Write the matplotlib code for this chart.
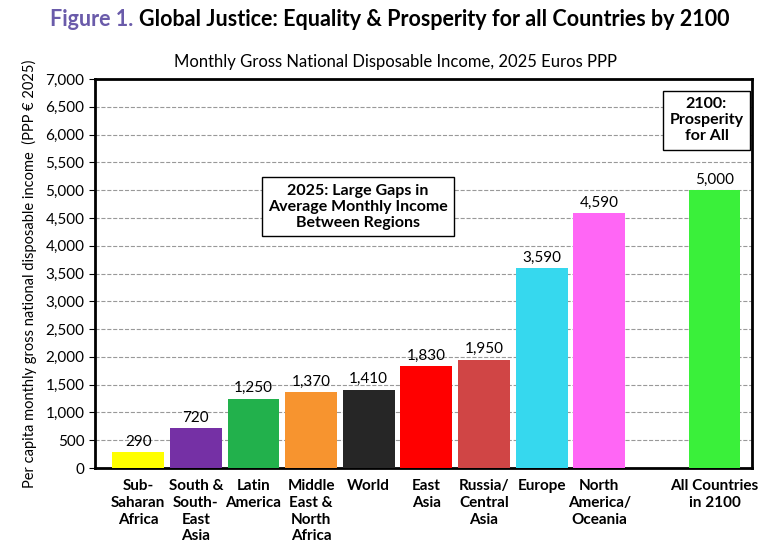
import matplotlib.pyplot as plt
import numpy as np

plt.rcParams['font.family'] = ['Lato', 'DejaVu Sans']

# data
regions = ["Sub-\nSaharan\nAfrica", "South &\nSouth-\nEast\nAsia", "Latin\nAmerica",
           "Middle\nEast &\nNorth\nAfrica", "World", "East\nAsia", "Russia/\nCentral\nAsia",
           "Europe", "North\nAmerica/\nOceania", "All Countries\nin 2100"]
income = [290, 720, 1250, 1370, 1410, 1830, 1950, 3590, 4590, 5000]
positions = [0, 1, 2, 3, 4, 5, 6, 7, 8, 10]
colors = ["#FFFF00", "#7530A5", "#22B14C", "#F7942F", "#262626", "#FF0000",
          "#D04545", "#36D8EE", "#FF66F5", "#3AF03A"]

fig = plt.figure(figsize=(7.74, 5.43), dpi=100)
ax = fig.add_axes([95 / 774, 75 / 543, 657 / 774, 389 / 543])

ax.bar(positions, income, width=0.9, color=colors, zorder=3)
for x, v in zip(positions, income):
    ax.text(x, v + 60, f"{v:,}", ha="center", va="bottom", fontsize=11, zorder=4)

ax.set_xlim(-0.75, 10.65)
ax.set_ylim(0, 7000)
ax.set_yticks(np.arange(0, 7001, 500))
ax.yaxis.set_major_formatter(plt.FuncFormatter(lambda v, p: f"{int(v):,}"))
ax.tick_params(axis="y", labelsize=11, length=4, direction="out")
ax.set_xticks(positions)
ax.set_xticklabels(regions, fontsize=11, fontweight="bold", va="top", linespacing=1.25)
ax.tick_params(axis="x", length=0, pad=8)
ax.grid(axis="y", linestyle="--", color="#999999", linewidth=0.8, zorder=0)
for s in ax.spines.values():
    s.set_linewidth(2)

ax.set_ylabel("Per capita monthly gross national disposable income  (PPP € 2025)", fontsize=10.5, labelpad=6)

box = dict(boxstyle="square,pad=0.4", facecolor="white", edgecolor="black", linewidth=1)
ax.text(3.81, 4700, "2025: Large Gaps in\nAverage Monthly Income\nBetween Regions",
        ha="center", va="center", fontsize=11.5, fontweight="bold", bbox=box, zorder=5)
ax.text(9.86, 6260, "2100:\nProsperity\nfor All", ha="center", va="center",
        fontsize=11.5, fontweight="bold", bbox=box, zorder=5)

# title
t1 = fig.text(50 / 774, 1 - 20 / 543, "Figure 1.", color="#6A5BAA", fontsize=15.5,
              fontweight="bold", va="center", ha="left")
fig.canvas.draw()
bb = t1.get_window_extent()
fig.text((bb.x1 + 6) / 774, 1 - 20 / 543,
         "Global Justice: Equality & Prosperity for all Countries by 2100",
         color="black", fontsize=15.5, fontweight="bold", va="center", ha="left")
fig.text(395 / 774, 1 - 62 / 543, "Monthly Gross National Disposable Income, 2025 Euros PPP",
         fontsize=12, ha="center", va="center")

fig.savefig("out.png", dpi=100)
